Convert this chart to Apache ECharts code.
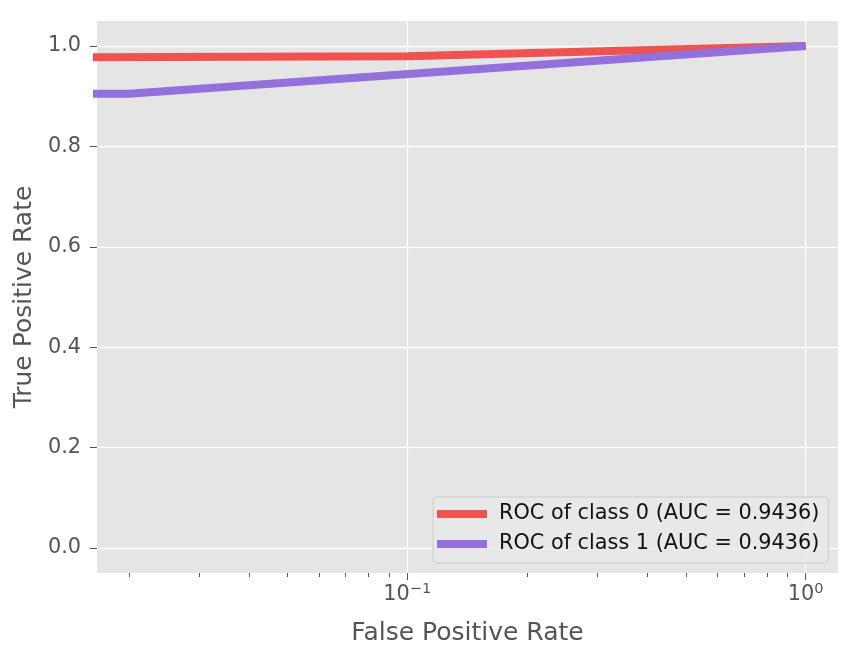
<!DOCTYPE html>
<html>
<head>
<meta charset="utf-8">
<script src="https://cdn.jsdelivr.net/npm/echarts@6/dist/echarts.min.js"></script>
<style>
  html, body { margin: 0; padding: 0; background: #fff; }
  #main { width: 861px; height: 661px; }
</style>
</head>
<body>
<div id="main"></div>
<script>
// ROC curves (fpr on a log axis)
var names = ['ROC of class 0 (AUC = 0.9436)', 'ROC of class 1 (AUC = 0.9436)'];
var fpr0 = [0.01, 0.1, 1];
var tpr0 = [0.977, 0.980, 1.0];
var fpr1 = [0.01, 0.02, 1];
var tpr1 = [0.905, 0.905, 1.0];
var colors = ['#ef5350', '#9370db'];

var xMajor = [0.1, 1];
var xMinor = [0.02, 0.03, 0.04, 0.05, 0.06, 0.07, 0.08, 0.09, 0.2, 0.3, 0.4, 0.5, 0.6, 0.7, 0.8, 0.9];
var yTicks = [0, 0.2, 0.4, 0.6, 0.8, 1.0];

var xMin = 0.01664, xMax = 1.2054;
var font = 'DejaVu Sans';

function pairs(xs, ys) {
  var out = [];
  for (var i = 0; i < xs.length; i++) out.push([xs[i], ys[i]]);
  return out;
}

var chart = echarts.init(document.getElementById('main'), null, { renderer: 'canvas' });
var gridPos = { left: 97, right: 23, top: 21, bottom: 88 };

var option = {
  animation: false,
  backgroundColor: '#ffffff',
  grid: [
    Object.assign({ show: true, backgroundColor: '#e5e5e5', borderWidth: 0 }, gridPos),
    Object.assign({ show: false }, gridPos)
  ],
  legend: {
    orient: 'vertical',
    left: 433,
    top: 497,
    padding: [5, 9, 7, 4],
    itemGap: 6,
    itemWidth: 50,
    itemHeight: 8,
    icon: 'rect',
    backgroundColor: 'rgba(232,232,232,0.8)',
    borderColor: '#cccccc',
    borderWidth: 1,
    borderRadius: 4,
    textStyle: { fontFamily: font, fontSize: 20.8, color: '#111', lineHeight: 24, padding: [0, 0, 0, 7] },
    data: names
  },
  xAxis: [{
    type: 'log',
    logBase: 10,
    gridIndex: 0,
    min: xMin,
    max: xMax,
    name: 'False Positive Rate',
    nameLocation: 'middle',
    nameGap: 48,
    nameTextStyle: { fontFamily: font, fontSize: 25, color: '#555555' },
    axisLine: { show: false, onZero: false },
    axisTick: { show: true, customValues: xMajor, length: 7, lineStyle: { color: '#555555', width: 1 } },
    axisLabel: {
      customValues: xMajor,
      margin: 9,
      fontFamily: font,
      fontSize: 20.8,
      color: '#555555',
      formatter: function (v) {
        var e = Math.round(Math.log10(v));
        return '10{sup|' + (e < 0 ? '\u2212' + (-e) : e) + '}';
      },
      rich: {
        sup: { fontFamily: font, fontSize: 14.5, color: '#555555', verticalAlign: 'top', padding: [0, 0, 10, 0] }
      }
    },
    splitLine: { show: true, lineStyle: { color: '#ffffff', width: 1.3 } }
  }, {
    type: 'log',
    logBase: 10,
    gridIndex: 1,
    min: xMin,
    max: xMax,
    axisLine: { show: false, onZero: false },
    axisTick: { show: true, customValues: xMinor, length: 4, lineStyle: { color: '#555555', width: 1 } },
    axisLabel: { show: false },
    splitLine: { show: false }
  }],
  yAxis: [{
    type: 'value',
    gridIndex: 0,
    min: -0.05,
    max: 1.05,
    name: 'True Positive Rate',
    nameLocation: 'middle',
    nameGap: 60,
    nameTextStyle: { fontFamily: font, fontSize: 25, color: '#555555' },
    axisLine: { show: false, onZero: false },
    axisTick: { show: true, customValues: yTicks, length: 7, lineStyle: { color: '#555555', width: 1 } },
    axisLabel: {
      customValues: yTicks,
      margin: 16,
      fontFamily: font,
      fontSize: 20.8,
      color: '#555555',
      formatter: function (v) { return v.toFixed(1); }
    },
    splitLine: { show: true, lineStyle: { color: '#ffffff', width: 1.3 } }
  }, {
    type: 'value',
    gridIndex: 1,
    min: -0.05,
    max: 1.05,
    axisLine: { show: false, onZero: false },
    axisTick: { show: false },
    axisLabel: { show: false },
    splitLine: { show: false }
  }],
  series: [{
    name: names[0],
    type: 'line',
    xAxisIndex: 0,
    yAxisIndex: 0,
    showSymbol: false,
    clip: true,
    data: pairs(fpr0, tpr0),
    itemStyle: { color: colors[0] },
    lineStyle: { color: colors[0], width: 8, cap: 'butt' }
  }, {
    name: names[1],
    type: 'line',
    xAxisIndex: 0,
    yAxisIndex: 0,
    showSymbol: false,
    clip: true,
    data: pairs(fpr1, tpr1),
    itemStyle: { color: colors[1] },
    lineStyle: { color: colors[1], width: 8, cap: 'butt' }
  }]
};

chart.setOption(option);
</script>
</body>
</html>
